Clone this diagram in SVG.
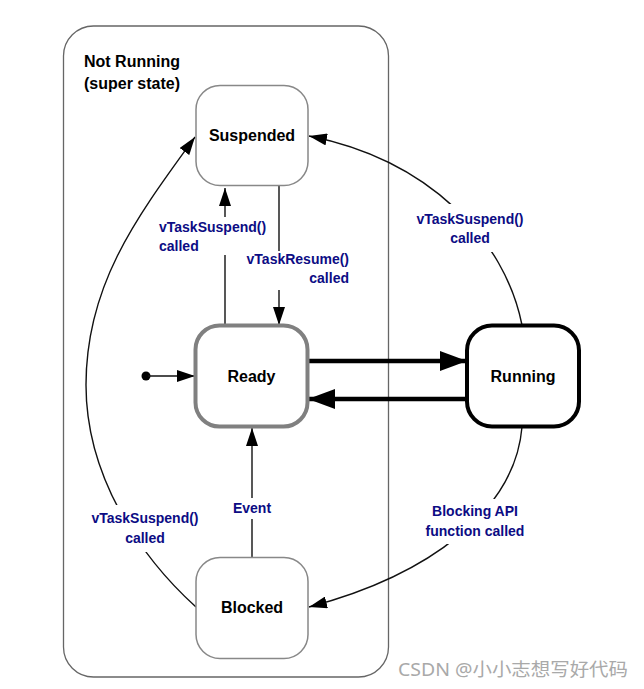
<svg xmlns="http://www.w3.org/2000/svg" width="644" height="689" viewBox="0 0 644 689">
  <style>
    .state { fill: #fff; stroke: #888; stroke-width: 1.5; }
    .ready { fill: #fff; stroke: #808080; stroke-width: 4; }
    .run { fill: #fff; stroke: #000; stroke-width: 4; }
    .name { font-family: "Liberation Sans", Arial, sans-serif; font-weight: bold; font-size: 16px; fill: #000; }
    .lbl { font-family: "Liberation Sans", Arial, sans-serif; font-weight: bold; font-size: 14px; fill: #0c0c84; }
    .thin { fill: none; stroke: #111; stroke-width: 1.4; }
    .thick { fill: none; stroke: #000; stroke-width: 4.5; }
    .wm { font-family: "Noto Sans", "Noto Sans CJK SC", sans-serif; font-size: 18px; fill: #a9a9a9; }
  </style>
  <defs>
    <marker id="ah" viewBox="0 0 18 12" refX="18" refY="6" markerWidth="18" markerHeight="12" markerUnits="userSpaceOnUse" orient="auto">
      <path d="M0,0 L18,6 L0,12 z" fill="#000"/>
    </marker>
    <marker id="ahBig" viewBox="0 0 27 20" refX="27" refY="10" markerWidth="27" markerHeight="20" markerUnits="userSpaceOnUse" orient="auto">
      <path d="M0,0 L27,10 L0,20 z" fill="#000"/>
    </marker>
    <mask id="gaps" maskUnits="userSpaceOnUse" x="0" y="0" width="644" height="689">
      <rect x="0" y="0" width="644" height="689" fill="#fff"/>
      <rect x="155" y="217" width="115" height="38" fill="#000"/>
      <rect x="240" y="251" width="112" height="39" fill="#000"/>
      <rect x="410" y="204" width="120" height="48" fill="#000"/>
      <rect x="84" y="505" width="120" height="47" fill="#000"/>
      <rect x="225" y="498" width="55" height="21" fill="#000"/>
      <rect x="418" y="499" width="112" height="45" fill="#000"/>
    </mask>
  </defs>

  <g id="not-running">
    <rect x="63.5" y="26" width="325" height="651" rx="30" ry="30" fill="none" stroke="#666" stroke-width="1.3"/>
    <text class="name" x="84" y="67">Not Running</text>
    <text class="name" x="84" y="89">(super state)</text>
  </g>

  <g id="connectors" mask="url(#gaps)">
    <path class="thin" d="M225,325 V188" marker-end="url(#ah)"/>
    <path class="thin" d="M279,186 V325" marker-end="url(#ah)"/>
    <circle cx="146" cy="376" r="4.5" fill="#000"/>
    <path class="thin" d="M148,376 H195" marker-end="url(#ah)"/>
    <path class="thick" d="M308,361 H467" marker-end="url(#ahBig)"/>
    <path class="thick" d="M467,399 H308" marker-end="url(#ahBig)"/>
    <path class="thin" d="M522,325 C505,240 430,160 309,136" marker-end="url(#ah)"/>
    <path class="thin" d="M522,427 C515,510 430,575 309,607" marker-end="url(#ah)"/>
    <path class="thin" d="M196,607 C144,560 86,480 86,385 C86,285 136,218 195,137" marker-end="url(#ah)"/>
    <path class="thin" d="M252,557 V428" marker-end="url(#ah)"/>
  </g>

  <g id="labels">
    <text class="lbl" x="159" y="232">vTaskSuspend()</text>
    <text class="lbl" x="159" y="251">called</text>
    <text class="lbl" x="349" y="264" text-anchor="end">vTaskResume()</text>
    <text class="lbl" x="349" y="283" text-anchor="end">called</text>
    <text class="lbl" x="470" y="224" text-anchor="middle">vTaskSuspend()</text>
    <text class="lbl" x="470" y="243" text-anchor="middle">called</text>
    <text class="lbl" x="145" y="523" text-anchor="middle">vTaskSuspend()</text>
    <text class="lbl" x="145" y="543" text-anchor="middle">called</text>
    <text class="lbl" x="252" y="513" text-anchor="middle">Event</text>
    <text class="lbl" x="475" y="516" text-anchor="middle">Blocking API</text>
    <text class="lbl" x="475" y="536" text-anchor="middle">function called</text>
  </g>

  <g id="suspended">
    <rect class="state" x="196" y="85.5" width="112" height="100" rx="24" ry="24"/>
    <text class="name" x="252" y="141" text-anchor="middle">Suspended</text>
  </g>
  <g id="ready">
    <rect class="ready" x="195.5" y="325.5" width="112" height="101" rx="24" ry="24"/>
    <text class="name" x="251.5" y="381.5" text-anchor="middle">Ready</text>
  </g>
  <g id="running">
    <rect class="run" x="467" y="325.5" width="112" height="101" rx="25" ry="25"/>
    <text class="name" x="523" y="381.5" text-anchor="middle">Running</text>
  </g>
  <g id="blocked">
    <rect class="state" x="196" y="557.5" width="112" height="101" rx="24" ry="24"/>
    <text class="name" x="252" y="613" text-anchor="middle">Blocked</text>
  </g>

  <text class="wm" x="398" y="676" textLength="230" lengthAdjust="spacingAndGlyphs">CSDN @小小志想写好代码</text>
</svg>
